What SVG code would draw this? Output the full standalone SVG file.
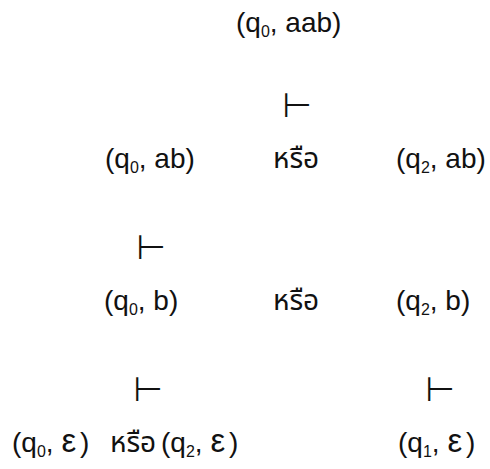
<svg xmlns="http://www.w3.org/2000/svg" width="490" height="469" viewBox="0 0 490 469">
<style>
.t{font-family:"Liberation Sans","Noto Sans Thai","Loma","Garuda","Noto Sans",sans-serif;font-size:28px;fill:#111}
.s{font-size:16px}
.e{font-size:33px}
.ts{font-family:"DejaVu Sans",sans-serif;font-size:34px;fill:#111;text-anchor:middle}
</style>
<rect width="490" height="469" fill="#fff"/>
<g id="n1"><text class="t" x="236" y="32">(q<tspan class="s" dy="5">0</tspan><tspan dy="-5">, aab)</tspan></text></g>
<g id="n2"><text class="t" x="105" y="168">(q<tspan class="s" dy="5">0</tspan><tspan dy="-5">, ab)</tspan></text></g>
<g id="or2"><text class="t" x="273" y="168">หรือ</text></g>
<g id="n3"><text class="t" x="396" y="168">(q<tspan class="s" dy="5">2</tspan><tspan dy="-5">, ab)</tspan></text></g>
<g id="n4"><text class="t" x="104" y="310">(q<tspan class="s" dy="5">0</tspan><tspan dy="-5">, b)</tspan></text></g>
<g id="or3"><text class="t" x="273" y="310">หรือ</text></g>
<g id="n5"><text class="t" x="396" y="310">(q<tspan class="s" dy="5">2</tspan><tspan dy="-5">, b)</tspan></text></g>
<g id="n6"><text class="t" x="12" y="452">(q<tspan class="s" dy="5">0</tspan><tspan dy="-5">, </tspan><tspan class="e">ε</tspan><tspan dx="4">)</tspan></text></g>
<g id="or4"><text class="t" x="110" y="452">หรือ</text></g>
<g id="n7"><text class="t" x="161" y="452">(q<tspan class="s" dy="5">2</tspan><tspan dy="-5">, </tspan><tspan class="e">ε</tspan><tspan dx="4">)</tspan></text></g>
<g id="n8"><text class="t" x="398" y="452">(q<tspan class="s" dy="5">1</tspan><tspan dy="-5">, </tspan><tspan class="e">ε</tspan><tspan dx="4">)</tspan></text></g>
<g id="connectors">
<text class="ts" x="297" y="117">⊢</text>
<text class="ts" x="151" y="259">⊢</text>
<text class="ts" x="148" y="401">⊢</text>
<text class="ts" x="440" y="401">⊢</text>
</g>
</svg>
